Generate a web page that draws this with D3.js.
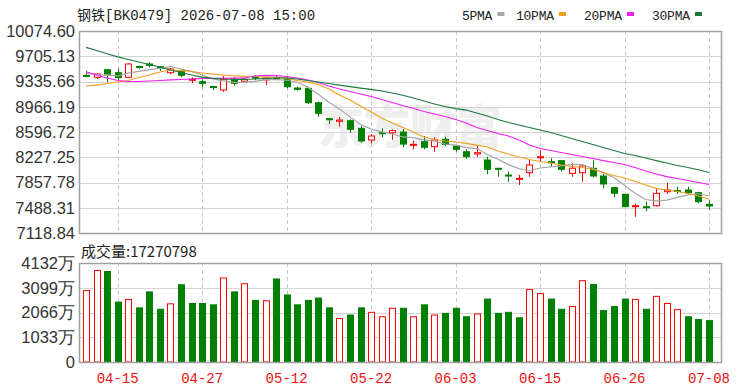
<!DOCTYPE html>
<html>
<head>
<meta charset="utf-8">
<script src="https://cdn.jsdelivr.net/npm/d3@7"></script>
<style>
  body { margin: 0; background: #fff; }
  svg { display: block; }
</style>
</head>
<body>
<div id="chart"></div>
<script>
// trading days shown in the chart
const dates = ['04-10','04-13','04-14','04-15','04-16','04-17','04-20','04-21','04-22','04-23',
  '04-24','04-27','04-28','04-29','04-30','05-06','05-07','05-08','05-11','05-12',
  '05-13','05-14','05-15','05-18','05-19','05-20','05-21','05-22','05-25','05-26',
  '05-27','05-28','05-29','06-01','06-02','06-03','06-04','06-05','06-08','06-09',
  '06-10','06-11','06-12','06-15','06-16','06-17','06-18','06-22','06-23','06-24',
  '06-25','06-26','06-29','06-30','07-01','07-02','07-03','07-06','07-07','07-08'];

const open  = [9425,9397,9508,9464,9397,9555,9592,9552,9464,9493,9357,9333,9262,9211,9368,9340,9400,9360,9390,9368,
  9240,9236,9025,8791,8753,8762,8651,8480,8586,8586,8596,8402,8455,8382,8490,8392,8308,8275,8187,8066,
  7967,7904,8001,8220,8162,8177,7992,8001,8066,7953,7782,7685,7504,7504,7518,7723,7740,7748,7708,7538];
const high  = [9494,9456,9518,9523,9600,9567,9616,9562,9533,9514,9397,9368,9264,9416,9397,9390,9430,9392,9430,9416,
  9259,9255,9036,8795,8820,8782,8684,8567,8651,8636,8640,8469,8538,8519,8528,8406,8343,8392,8235,8068,
  8016,7967,8187,8333,8212,8187,8148,8114,8187,7982,7792,7690,7553,7577,7762,7855,7796,7796,7723,7602];
const low   = [9415,9372,9324,9357,9390,9523,9543,9493,9441,9397,9309,9251,9211,9186,9274,9320,9355,9283,9365,9236,
  9201,9006,8820,8714,8674,8586,8440,8431,8519,8480,8373,8343,8343,8308,8392,8308,8202,8235,7978,7942,
  7869,7821,7942,8162,8089,8016,7942,7869,7933,7773,7641,7500,7357,7440,7504,7689,7689,7685,7553,7455];
const close = [9420,9445,9441,9391,9592,9548,9572,9533,9518,9426,9368,9309,9256,9368,9309,9368,9385,9385,9375,9259,
  9221,9025,8870,8785,8772,8636,8465,8538,8580,8616,8420,8416,8373,8480,8416,8343,8235,8294,8051,8060,
  7953,7919,8114,8235,8147,8051,8066,8099,7953,7836,7700,7504,7518,7489,7699,7748,7735,7708,7577,7514];

// volume in 万 (10k), and whether each bar is drawn as a rising (red) bar
const volume = [2981,3820,3777,2499,2613,2258,2925,2201,2428,3223,2442,2442,2385,3507,2925,3266,2570,2556,3465,2797,
  2385,2570,2669,2258,1817,1960,2258,2073,1888,2243,2243,1888,2385,1960,2030,2243,1888,2002,2627,2030,
  2073,1846,3024,2854,2627,2201,2314,3394,3237,2144,2314,2627,2613,2201,2740,2442,2187,1888,1775,1727];
const volRise = [1,1,0,0,1,0,0,0,1,0,0,0,0,1,0,1,0,1,0,0,
  0,0,0,0,1,0,0,1,1,1,0,1,0,1,0,0,0,1,0,0,
  0,0,1,1,0,0,1,1,0,0,0,0,1,0,1,1,1,0,0,0];
const lastVolume = 17270798;

// moving averages as drawn
const ma5  = [9455,9440,9428,9418,9458,9483,9509,9527,9553,9519,9483,9431,9375,9345,9322,9322,9337,9363,9364,9354,
  9325,9253,9150,9032,8935,8818,8706,8639,8599,8568,8524,8515,8482,8461,8421,8406,8369,8354,8268,8197,
  8119,8060,8030,8070,8085,8100,8123,8120,8063,8001,7931,7818,7702,7609,7590,7600,7640,7676,7693,7660];
const ma10 = [9270,9284,9306,9328,9350,9394,9431,9475,9504,9496,9482,9460,9445,9431,9419,9412,9409,9401,9394,9380,
  9350,9328,9292,9226,9138,9065,8977,8889,8801,8728,8662,8597,8523,8487,8465,8450,8431,8406,8377,8319,
  8275,8231,8194,8165,8143,8114,8092,8077,8048,8004,7960,7924,7873,7821,7773,7748,7726,7697,7660,7616];
const ma20 = [9479,9431,9387,9350,9336,9336,9343,9350,9358,9365,9372,9380,9380,9382,9384,9387,9416,9426,9423,9409,
  9387,9358,9321,9270,9226,9189,9153,9116,9072,9028,8984,8940,8897,8860,8823,8780,8728,8662,8619,8575,
  8538,8480,8406,8355,8326,8297,8268,8238,8209,8179,8150,8121,8077,8026,7982,7945,7916,7887,7858,7828];
const ma30 = [9836,9789,9741,9697,9658,9621,9584,9548,9504,9467,9431,9401,9382,9372,9368,9368,9372,9380,9387,9390,
  9372,9350,9328,9306,9284,9262,9240,9221,9197,9167,9134,9094,9050,9006,8970,8940,8918,8875,8831,8780,
  8736,8699,8662,8626,8589,8545,8501,8458,8414,8370,8326,8282,8253,8216,8179,8143,8106,8077,8044,8004];

const maNames  = ['5PMA','10PMA','20PMA','30PMA'];
const maColors = ['#a6a6a6','#f0a020','#f020f0','#1e7a3c'];

const priceTicks = [10074.60,9705.13,9335.66,8966.19,8596.72,8227.25,7857.78,7488.31,7118.84];
const volTicks = [4132,3099,2066,1033,0];
const xTickLabels = ['04-15','04-27','05-12','05-22','06-03','06-15','06-26','07-08'];

const width = 750, height = 391;
const left = 79, right = 721;
const priceTop = 31, priceBottom = 233;
const volTop = 263, volBottom = 362;
const up = '#ff0000', down = '#008000';
const axisFont = '"Liberation Sans", Arial, sans-serif';
const monoFont = '"Liberation Mono", "Noto Sans CJK SC", monospace';

const svg = d3.select('#chart').append('svg')
  .attr('width', width).attr('height', height)
  .attr('viewBox', [0, 0, width, height]);

svg.append('rect').attr('width', width).attr('height', height).attr('fill', '#fff');

const x = d3.scalePoint().domain(dates).range([86, 709]);
const y = d3.scaleLinear().domain([d3.min(priceTicks), d3.max(priceTicks)]).range([priceBottom, priceTop]);
const yv = d3.scaleLinear().domain([0, d3.max(volTicks)]).range([volBottom, volTop]);
const bw = 7;

// watermark
svg.append('text')
  .attr('x', 318).attr('y', 143)
  .attr('font-family', '"Noto Sans CJK SC", sans-serif')
  .attr('font-size', 46).attr('font-weight', 900)
  .attr('fill', '#efefef')
  .text('东方财富');

// gridlines
svg.append('g').selectAll('line')
  .data(priceTicks.slice(1, -1))
  .join('line')
  .attr('x1', left).attr('x2', right)
  .attr('y1', d => Math.round(y(d)) + 0.5).attr('y2', d => Math.round(y(d)) + 0.5)
  .attr('stroke', '#d4d4d4');

svg.append('g').selectAll('line')
  .data(volTicks.slice(1, -1))
  .join('line')
  .attr('x1', left).attr('x2', right)
  .attr('y1', d => Math.round(yv(d)) + 0.5).attr('y2', d => Math.round(yv(d)) + 0.5)
  .attr('stroke', '#d4d4d4');

[[priceTop, priceBottom], [volTop, volBottom]].forEach(([t, b]) => {
  svg.append('g').selectAll('line')
    .data(xTickLabels)
    .join('line')
    .attr('x1', d => Math.round(x(d)) + 0.5).attr('x2', d => Math.round(x(d)) + 0.5)
    .attr('y1', t).attr('y2', b)
    .attr('stroke', '#c8c8c8')
    .attr('stroke-dasharray', '4,3');
});

// candles
const idx = d3.range(dates.length);
const candles = svg.append('g');
candles.selectAll('line')
  .data(idx)
  .join('line')
  .attr('x1', i => Math.round(x(dates[i])) + 0.5)
  .attr('x2', i => Math.round(x(dates[i])) + 0.5)
  .attr('y1', i => y(high[i]))
  .attr('y2', i => y(low[i]))
  .attr('stroke', i => close[i] > open[i] ? up : down);

candles.selectAll('rect')
  .data(idx)
  .join('rect')
  .attr('x', i => Math.round(x(dates[i])) - 3 + 0.5)
  .attr('y', i => y(Math.max(open[i], close[i])))
  .attr('width', bw - 1)
  .attr('height', i => Math.max(1, Math.abs(y(open[i]) - y(close[i]))))
  .attr('fill', i => close[i] > open[i] ? '#fff' : down)
  .attr('stroke', i => close[i] > open[i] ? up : down);

// moving average lines
[ma5, ma10, ma20, ma30].forEach((s, k) => {
  svg.append('path')
    .datum(s)
    .attr('fill', 'none')
    .attr('stroke', maColors[k])
    .attr('stroke-width', 1.2)
    .attr('d', d3.line().x((d, i) => x(dates[i])).y(d => y(d)));
});

// volume bars
svg.append('g').selectAll('rect')
  .data(idx)
  .join('rect')
  .attr('x', i => Math.round(x(dates[i])) - 3 + 0.5)
  .attr('y', i => yv(volume[i]))
  .attr('width', bw - 1)
  .attr('height', i => volBottom - yv(volume[i]))
  .attr('fill', i => volRise[i] ? '#fff' : down)
  .attr('stroke', i => volRise[i] ? up : down);

// panel borders
[[priceTop, priceBottom], [volTop, volBottom]].forEach(([t, b]) => {
  svg.append('rect')
    .attr('x', left + 0.5).attr('y', t + 0.5)
    .attr('width', right - left).attr('height', b - t)
    .attr('fill', 'none')
    .attr('stroke', '#a0a0a0')
    .attr('stroke-width', 1.5);
});

// y axis labels
svg.append('g').selectAll('text')
  .data(priceTicks)
  .join('text')
  .attr('x', 75).attr('y', d => y(d))
  .attr('dy', '0.36em')
  .attr('text-anchor', 'end')
  .attr('font-family', axisFont).attr('font-size', 16.5)
  .attr('fill', '#333')
  .text(d => d.toFixed(2));

svg.append('g').selectAll('text')
  .data(volTicks)
  .join('text')
  .attr('x', 75).attr('y', d => yv(d))
  .attr('dy', '0.36em')
  .attr('text-anchor', 'end')
  .attr('font-family', axisFont).attr('font-size', 16.5)
  .attr('fill', '#333')
  .text(d => d === 0 ? '0' : d + '万');

// x axis labels
svg.append('g').selectAll('text')
  .data(xTickLabels)
  .join('text')
  .attr('x', d => x(d)).attr('y', 383)
  .attr('text-anchor', 'middle')
  .attr('font-family', monoFont).attr('font-size', 14)
  .attr('fill', '#ee1111')
  .text(d => d);

// title and volume caption
svg.append('text')
  .attr('x', 77).attr('y', 20)
  .attr('font-family', monoFont).attr('font-size', 14)
  .attr('fill', '#222')
  .text('钢铁[BK0479] 2026-07-08 15:00');

svg.append('text')
  .attr('x', 81).attr('y', 257)
  .attr('font-family', '"Noto Sans CJK SC", sans-serif').attr('font-size', 15)
  .attr('fill', '#222')
  .text('成交量:' + lastVolume);

// legend
const legendX = [462, 516, 584, 652];
maNames.forEach((name, k) => {
  const t = svg.append('text')
    .attr('x', legendX[k]).attr('y', 20)
    .attr('font-family', monoFont).attr('font-size', 13)
    .attr('textLength', name.length * 7.6)
    .attr('fill', '#222')
    .text(name);
  const w = name.length * 7.6;
  svg.append('rect')
    .attr('x', legendX[k] + w + 5).attr('y', 12)
    .attr('width', 7).attr('height', 4)
    .attr('fill', maColors[k]);
});
</script>
</body>
</html>
